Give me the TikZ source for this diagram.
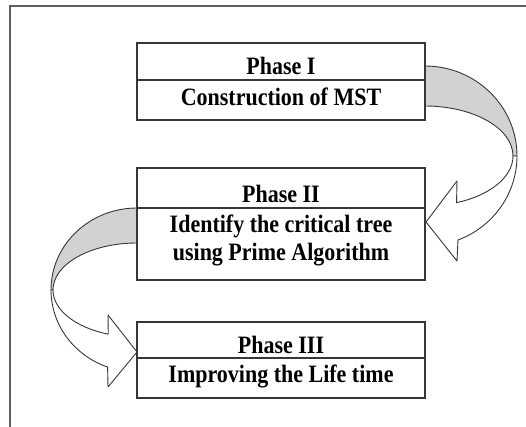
\documentclass[tikz,border=0pt]{standalone}
\usepackage{fontspec}
\setmainfont{Liberation Serif}[FakeStretch=0.88]
\definecolor{boxline}{RGB}{55,55,55}
\definecolor{frameline}{RGB}{95,95,95}
\definecolor{bandback}{RGB}{210,210,210}
\begin{document}
\begin{tikzpicture}[x=1pt,y=1pt,
  phasebox/.style={draw=boxline, line width=1.2pt, fill=white, minimum width=288pt, inner sep=0pt},
  phasetxt/.style={anchor=base, inner sep=0pt, font=\bfseries\fontsize{25}{28}\selectfont},
  bandface/.style={draw=boxline, line width=0.9pt, fill=white, line join=round},
  bandrear/.style={draw=boxline, line width=0.9pt, fill=bandback, line join=round}]
\useasboundingbox (0,0) rectangle (526,-427);

% open frame: top and left edges only
\draw[frameline, line width=2pt] (10,-427) -- (10,-6) -- (526,-6);

% curved block arrow from Phase I down to Phase II (right side)
\filldraw[bandrear] (425,-66) arc[start angle=90, end angle=0, x radius=92, y radius=90]
  -- (513,-156) arc[start angle=0, end angle=90, x radius=88, y radius=50] -- cycle;
\filldraw[bandface] (513,-156) arc[start angle=0, end angle=-69, x radius=88, y radius=50]
  -- (457,-181) -- (426,-222) -- (457,-261) -- (457.97,-240.02)
  arc[start angle=-69, end angle=0, x radius=92, y radius=90] -- cycle;

% curved block arrow from Phase II down to Phase III (left side)
\filldraw[bandrear] (137,-208) arc[start angle=90, end angle=180, x radius=86, y radius=82]
  -- (53,-290) arc[start angle=180, end angle=90, x radius=84, y radius=47] -- cycle;
\filldraw[bandface] (53,-290) arc[start angle=180, end angle=250, x radius=84, y radius=47]
  -- (108,-315) -- (137,-352) -- (108,-387) -- (107.59,-367.06)
  arc[start angle=250, end angle=180, x radius=86, y radius=82] -- cycle;

% phase boxes (title cell above, description cell below)
\node[phasebox, minimum height=37pt] (p1h) at (281,-61.5) {};
\node[phasebox, minimum height=40pt] (p1b) at (281,-100) {};
\node[phasebox, minimum height=40pt] (p2h) at (281,-188) {};
\node[phasebox, minimum height=72pt] (p2b) at (281,-244) {};
\node[phasebox, minimum height=36pt] (p3h) at (281,-340) {};
\node[phasebox, minimum height=40pt] (p3b) at (281,-378) {};

% cell texts, placed on their baselines
\node[phasetxt] (t1h) at (281,-75) {Phase I};
\node[phasetxt] (t1b) at (281,-106) {Construction of MST};
\node[phasetxt] (t2h) at (281,-202.5) {Phase II};
\node[phasetxt] (t2b) at (281,-233) {Identify the critical tree};
\node[phasetxt] (t2c) at (281,-260.5) {using Prime Algorithm};
\node[phasetxt] (t3h) at (281,-353.5) {Phase III};
\node[phasetxt] (t3b) at (281,-382) {Improving the Life time};
\end{tikzpicture}
\end{document}
